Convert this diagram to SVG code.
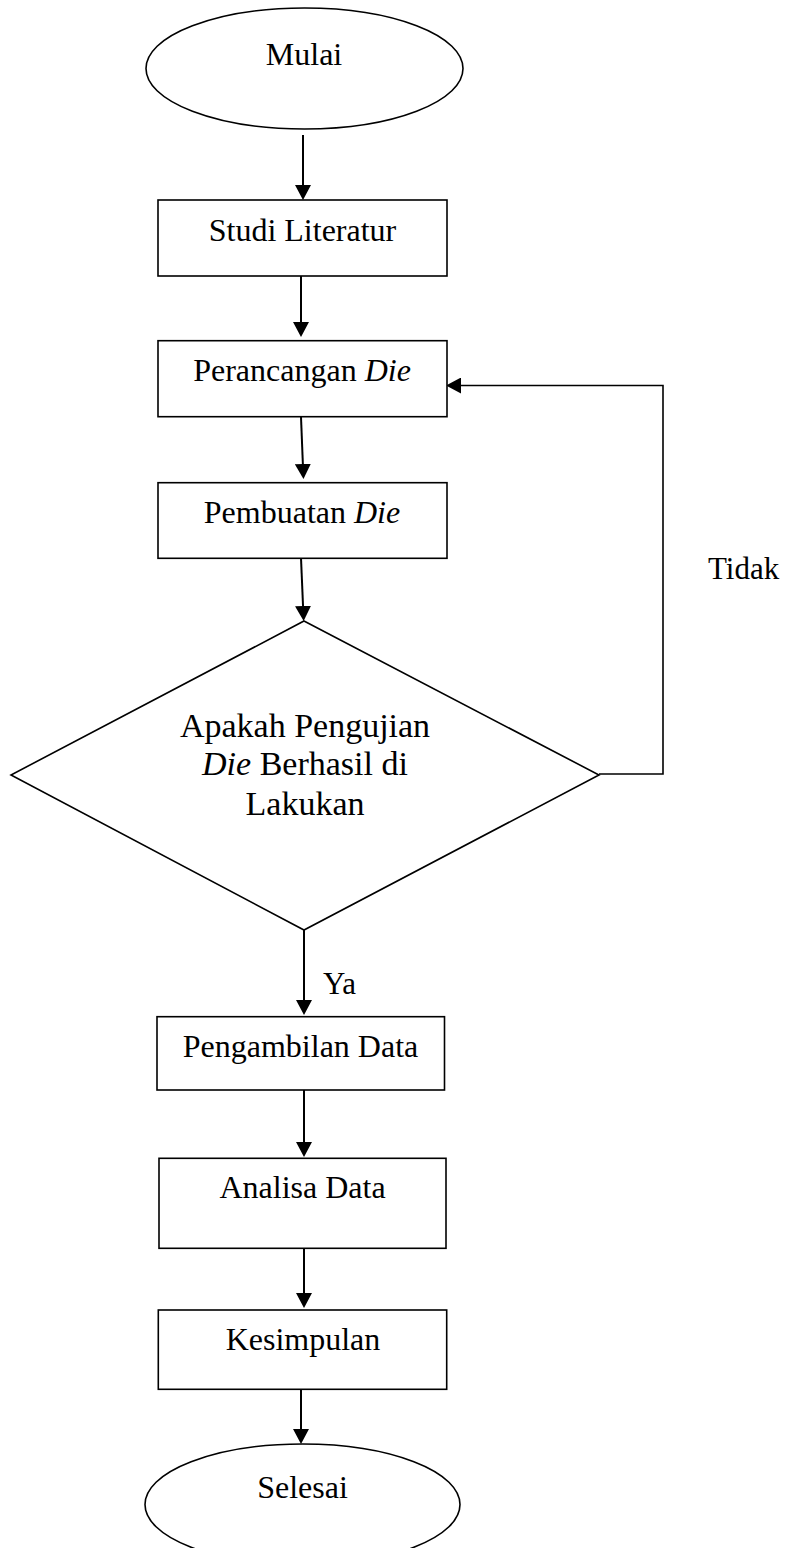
<svg xmlns="http://www.w3.org/2000/svg" width="788" height="1548" viewBox="0 0 788 1548">
<style>
  .shape { fill: #ffffff; stroke: #000000; stroke-width: 1.6; }
  .conn { fill: none; stroke: #000000; stroke-width: 2; }
  .fb { fill: none; stroke: #000000; stroke-width: 1.6; }
  text { font-family: "Liberation Serif", "Times New Roman", serif; font-size: 32px; fill: #000000; }
  .c { text-anchor: middle; }
  .d { font-size: 34px; }
  .i { font-style: italic; }
</style>
<defs>
  <marker id="ah" viewBox="0 0 15 16" refX="11" refY="8" markerWidth="15" markerHeight="16" markerUnits="userSpaceOnUse" orient="auto">
    <path d="M0,0 L15,8 L0,16 Z" fill="#000000"/>
  </marker>
</defs>
<rect width="788" height="1548" fill="#ffffff"/>

<g id="connectors">
  <line class="conn" x1="303" y1="135" x2="303" y2="196" marker-end="url(#ah)"/>
  <line class="conn" x1="301" y1="276" x2="301" y2="333" marker-end="url(#ah)"/>
  <line class="conn" x1="301" y1="417" x2="303.3" y2="475" marker-end="url(#ah)"/>
  <line class="conn" x1="301" y1="558" x2="303.5" y2="617" marker-end="url(#ah)"/>
  <line class="conn" x1="304" y1="930" x2="304" y2="1011" marker-end="url(#ah)"/>
  <line class="conn" x1="304" y1="1090" x2="304" y2="1153" marker-end="url(#ah)"/>
  <line class="conn" x1="304" y1="1248" x2="304" y2="1304" marker-end="url(#ah)"/>
  <line class="conn" x1="301" y1="1389" x2="301" y2="1440" marker-end="url(#ah)"/>
  <polyline class="fb" points="599,774 663,774 663,385.5 450,385.5" marker-end="url(#ah)"/>
  <text id="label-tidak" x="708" y="579" style="font-size:31px">Tidak</text>
  <text id="label-ya" x="323" y="994" style="font-size:31px">Ya</text>
</g>

<g id="mulai">
  <ellipse class="shape" cx="304.5" cy="68.5" rx="158.5" ry="60.5"/>
  <text class="c" x="304" y="65">Mulai</text>
</g>

<g id="studi-literatur">
  <rect class="shape" x="158" y="200" width="289" height="76"/>
  <text class="c" x="302.5" y="241">Studi Literatur</text>
</g>

<g id="perancangan-die">
  <rect class="shape" x="158" y="340.7" width="289" height="76"/>
  <text class="c" x="302" y="381">Perancangan <tspan class="i">Die</tspan></text>
</g>

<g id="pembuatan-die">
  <rect class="shape" x="158" y="482.7" width="289" height="75.6"/>
  <text class="c" x="302" y="522.7">Pembuatan <tspan class="i">Die</tspan></text>
</g>

<g id="keputusan">
  <polygon class="shape" points="304,621 599,775 304,930 11,775"/>
  <text class="c d" x="305" y="737">Apakah Pengujian</text>
  <text class="c d" x="305" y="775"><tspan class="i">Die</tspan> Berhasil di</text>
  <text class="c d" x="305" y="815">Lakukan</text>
</g>

<g id="pengambilan-data">
  <rect class="shape" x="157" y="1016.7" width="287.5" height="73.3"/>
  <text class="c" x="300.5" y="1056.7">Pengambilan Data</text>
</g>

<g id="analisa-data">
  <rect class="shape" x="159" y="1158.3" width="287" height="90"/>
  <text class="c" x="302.5" y="1198.3">Analisa Data</text>
</g>

<g id="kesimpulan">
  <rect class="shape" x="158.3" y="1310" width="288.4" height="79.3"/>
  <text class="c" x="303" y="1350">Kesimpulan</text>
</g>

<g id="selesai">
  <ellipse class="shape" cx="302.5" cy="1504.5" rx="157.5" ry="60.5"/>
  <text class="c" x="302.5" y="1497.7">Selesai</text>
</g>
</svg>
